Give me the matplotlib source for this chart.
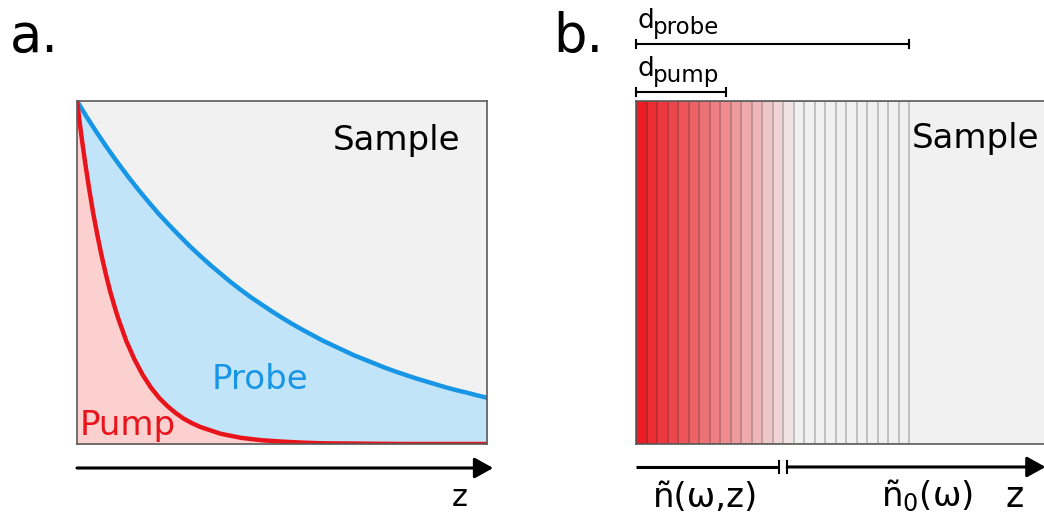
import numpy as np
import matplotlib
matplotlib.use('Agg')
import matplotlib.pyplot as plt

plt.rcParams['font.family'] = ['DejaVu Sans']

# panel a: intensity vs depth z
probe_z = [0, 0.25, 0.5, 0.75, 1, 1.25, 1.5, 1.75, 2, 2.25, 2.5, 2.75, 3, 3.25, 3.5, 3.75,
           4, 4.25, 4.5, 4.75, 5, 5.25, 5.5, 5.75, 6, 6.25, 6.5, 6.75, 7, 7.25, 7.5, 7.75,
           8, 8.25, 8.5, 8.75, 9, 9.25, 9.5, 9.75, 10]
probe_I = [1.000, 0.951, 0.905, 0.861, 0.819, 0.779, 0.741, 0.705, 0.670, 0.638, 0.607,
           0.577, 0.549, 0.522, 0.497, 0.472, 0.449, 0.427, 0.407, 0.387, 0.368, 0.350,
           0.333, 0.317, 0.301, 0.287, 0.273, 0.259, 0.247, 0.235, 0.223, 0.212, 0.202,
           0.192, 0.183, 0.174, 0.165, 0.157, 0.150, 0.142, 0.135]
pump_z = [0, 0.1, 0.2, 0.3, 0.4, 0.5, 0.6, 0.7, 0.8, 0.9, 1.0, 1.2, 1.4, 1.6, 1.8, 2.0,
          2.2, 2.4, 2.6, 2.8, 3.0, 3.5, 4, 4.5, 5, 5.5, 6, 7, 8, 10]
pump_I = [1.000, 0.905, 0.819, 0.741, 0.670, 0.607, 0.549, 0.497, 0.449, 0.407, 0.368,
          0.301, 0.247, 0.202, 0.165, 0.135, 0.111, 0.091, 0.074, 0.061, 0.050, 0.030,
          0.018, 0.011, 0.007, 0.004, 0.002, 0.001, 0.0, 0.0]

# panel b: red fraction of each layer (stripe)
stripe_red = [1.0, 0.93, 0.87, 0.80, 0.73, 0.67, 0.60, 0.53, 0.47, 0.40, 0.33, 0.27, 0.20,
              0.13, 0.07, 0.0, 0, 0, 0, 0, 0, 0, 0, 0, 0, 0]
d_pump = 8.6      # in layer units
d_probe = 26.0
n_break = 13.6

RED = np.array([0xed, 0x1c, 0x24]) / 255
GRAY = np.array([0xf0, 0xf0, 0xf0]) / 255
BLUE = '#1896e6'
PUMP_RED = '#e8141c'

fig = plt.figure(figsize=(10.44, 5.18), dpi=100)

# ---------- panel a ----------
ax_a = fig.add_axes([77 / 1044, 1 - 444 / 518, 410 / 1044, 343 / 518])
ax_a.set_facecolor('#f1f1f1')
ax_a.fill_between(probe_z, probe_I, color='#c2e4f8', lw=0)
ax_a.fill_between(pump_z, pump_I, color='#fdd0d0', lw=0)
ax_a.plot(probe_z, probe_I, color=BLUE, lw=3.2, solid_joinstyle='round')
ax_a.plot(pump_z, pump_I, color=PUMP_RED, lw=3.2, solid_joinstyle='round')
ax_a.set_xlim(0, 10)
ax_a.set_ylim(0, 1)
ax_a.set_xticks([])
ax_a.set_yticks([])
for s in ax_a.spines.values():
    s.set_color('#5a5a5a')
    s.set_linewidth(1.2)

ax_a.text(0.624, 0.857, 'Sample', transform=ax_a.transAxes, fontsize=24.5, color='black')
ax_a.text(0.329, 0.16, 'Probe', transform=ax_a.transAxes, fontsize=24.5, color=BLUE)
ax_a.text(0.007, 0.026, 'Pump', transform=ax_a.transAxes, fontsize=24.5, color=PUMP_RED)

ax_a.annotate('', xy=(1.015, -0.07), xytext=(0, -0.07), xycoords='axes fraction',
              arrowprops=dict(arrowstyle='-|>,head_length=0.45,head_width=0.25',
                              lw=2.2, color='black', mutation_scale=25, shrinkA=0, shrinkB=0))
ax_a.text(0.915, -0.18, 'z', transform=ax_a.transAxes, fontsize=22, va='baseline')

# ---------- panel b ----------
ax_b = fig.add_axes([636 / 1044, 1 - 444 / 518, 420 / 1044, 343 / 518])
ax_b.set_facecolor('#f1f1f1')
for i, f in enumerate(stripe_red):
    face = GRAY + f * (RED - GRAY)
    edge = face * 0.8
    ax_b.bar(i, 1, width=1, align='edge', color=face, edgecolor=edge, lw=1.4)
ax_b.set_xlim(0, 40)
ax_b.set_ylim(0, 1)
ax_b.set_xticks([])
ax_b.set_yticks([])
for s in ax_b.spines.values():
    s.set_color('#5a5a5a')
    s.set_linewidth(1.2)
ax_b.text(0.657, 0.863, 'Sample', transform=ax_b.transAxes, fontsize=24.5, color='black')

tr = ax_b.get_xaxis_transform()

# thickness brackets
for x1, yb in [(d_probe, 1.166), (d_pump, 1.026)]:
    ax_b.plot([0, x1], [yb, yb], color='black', lw=1.5, transform=tr, clip_on=False)
    for xx in (0, x1):
        ax_b.plot([xx, xx], [yb - 0.012, yb + 0.012], color='black', lw=1.5,
                  transform=tr, clip_on=False)
ax_b.text(0.1, 1.213, 'd', transform=tr, fontsize=19, va='baseline')
ax_b.text(1.65, 1.195, 'probe', transform=tr, fontsize=16.5, va='baseline')
ax_b.text(0.1, 1.073, 'd', transform=tr, fontsize=19, va='baseline')
ax_b.text(1.65, 1.055, 'pump', transform=tr, fontsize=16.5, va='baseline')

# z axis with break
yz = -0.067
ax_b.plot([0, n_break], [yz, yz], color='black', lw=2.2, transform=tr, clip_on=False,
          solid_capstyle='butt')
ax_b.plot([n_break, n_break], [yz - 0.0175, yz + 0.0175], color='black', lw=1.5,
          transform=tr, clip_on=False)
ax_b.plot([n_break + 0.8, n_break + 0.8], [yz - 0.0175, yz + 0.0175], color='black', lw=1.5,
          transform=tr, clip_on=False)
ax_b.annotate('', xy=(39.0, yz), xytext=(n_break + 0.8, yz), xycoords=tr,
              arrowprops=dict(arrowstyle='-|>,head_length=0.45,head_width=0.25',
                              lw=2.2, color='black', mutation_scale=25, shrinkA=0, shrinkB=0),
              annotation_clip=False)
ax_b.text(1.6, -0.183, 'ñ(ω,z)', transform=tr, fontsize=24.5, va='baseline')
ax_b.text(23.3, -0.183, 'ñ$_0$(ω)', transform=tr, fontsize=24.5, va='baseline')
ax_b.text(35.2, -0.183, 'z', transform=tr, fontsize=25, va='baseline')

# panel letters
fig.text(10 / 1044, 1 - 52 / 518, 'a.', fontsize=38, va='baseline')
fig.text(553 / 1044, 1 - 52 / 518, 'b.', fontsize=38, va='baseline')

fig.savefig('out.png', dpi=100)
